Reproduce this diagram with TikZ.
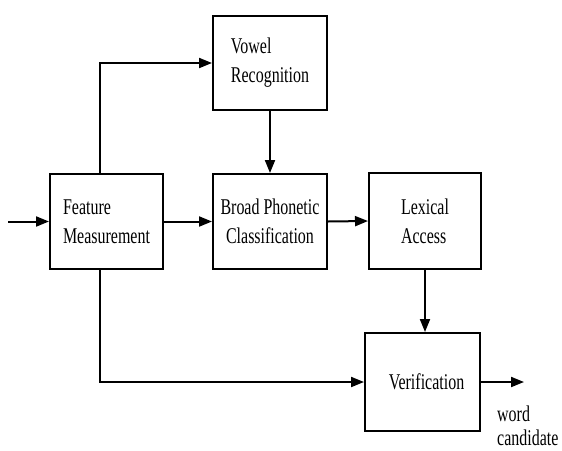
\documentclass[tikz,border=0pt]{standalone}
\usepackage{fontspec}
\setmainfont{Liberation Serif}[FakeStretch=0.71]
\usetikzlibrary{arrows.meta}

\begin{document}
\begin{tikzpicture}[x=1pt,y=-1pt]
		\tikzstyle{block}=[draw=black, line width=2pt, inner sep=0pt, font=\fontsize{22.5}{29}\selectfont, align=left]
		\tikzstyle{flow}=[line width=2pt, -{Triangle[length=13pt,width=10pt]}]
		\tikzstyle{out_text}=[inner sep=0pt, font=\fontsize{22.5}{24}\selectfont, align=left]

		\useasboundingbox (0,0) rectangle (562,450);

		% blocks
		\node [block, minimum width=114pt, minimum height=94pt] (vowel) at (270,63) {Vowel\\Recognition};
		\node [block, minimum width=113pt, minimum height=95pt] (feature) at (106.5,221.5) {Feature\\Measurement};
		\node [block, align=center, minimum width=114pt, minimum height=95pt] (broad) at (270,221.5) {Broad Phonetic\\Classification};
		\node [block, minimum width=112pt, minimum height=96pt] (lexical) at (425,221) {Lexical\\Access};
		\node [block, minimum width=115pt, minimum height=98pt] (verif) at (422.5,382) {\hspace*{8pt}Verification};

		\coordinate (in) at (8,221.5);
		\coordinate (up) at (100,63);
		\coordinate (down) at (100,382);
		\coordinate (out) at (524,382);
		\node [out_text, anchor=north west] (word) at (497,406) {word\\candidate};

		% connectors
		\draw [flow] (in) -- (feature.west);
		\draw [flow] (feature.north -| up) -- (up) -- (vowel.west);
		\draw [flow] (vowel.south) -- (broad.north);
		\draw [flow] (feature.east) -- (broad.west);
		\draw [flow] (broad.east) -- (lexical.west);
		\draw [flow] (lexical.south) -- (lexical.south |- verif.north);
		\draw [flow] (feature.south -| down) -- (down) -- (verif.west);
		\draw [flow] (verif.east) -- (out);

	\end{tikzpicture}
\end{document}
